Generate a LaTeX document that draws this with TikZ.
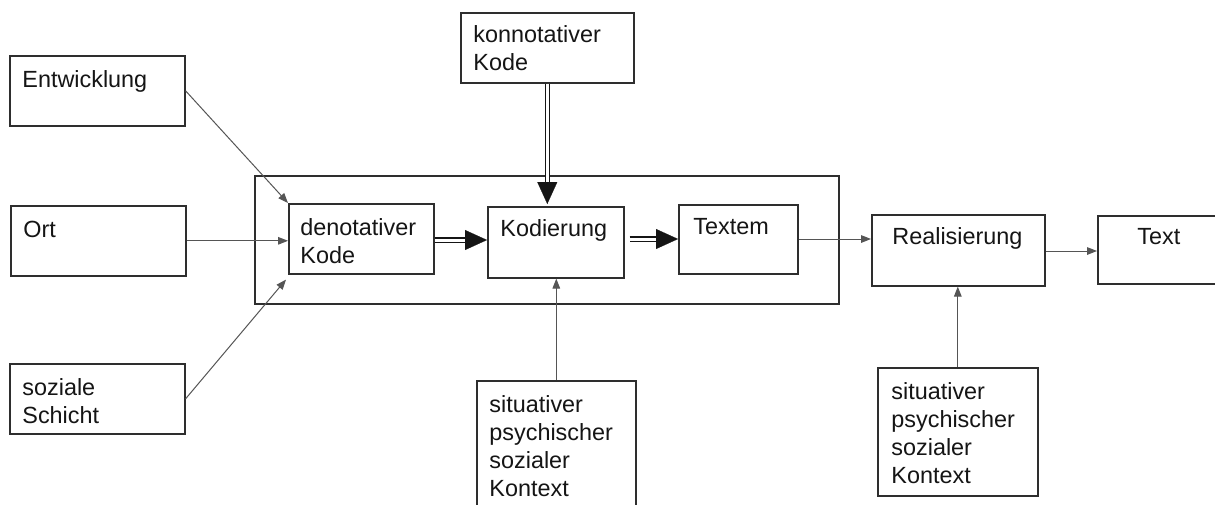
\documentclass[tikz,border=0pt]{standalone}
\usepackage{fontspec}
\setmainfont{Liberation Sans}
\usetikzlibrary{arrows.meta,calc}
\definecolor{boxc}{HTML}{2E2E2E}
\definecolor{linec}{HTML}{555555}
\definecolor{txtc}{HTML}{151515}
\begin{document}
\begin{tikzpicture}[x=0.5pt,y=-0.5pt,
  box/.style={draw=boxc, line width=0.8pt, rectangle, inner sep=0pt, anchor=north west},
  lbl/.style={inner sep=0pt, anchor=base west, text width=100pt, align=left, text=txtc,
    font=\fontsize{11.7}{14}\selectfont},
  thin/.style={draw=linec, line width=0.5pt, -{Triangle[length=5pt,width=3.8pt]}},
  dbl/.style={draw=txtc, line width=0.65pt, double=white, double distance=1.5pt, shorten >=9pt},
  bighead/.style={draw=white, line width=0.1pt, -{Triangle[length=11pt,width=10pt,color=txtc]}}]
\useasboundingbox[fill=white] (0,0) rectangle (1215,504);
% boxes
\node[box, minimum width=87.5pt, minimum height=35pt] (ent) at (9,55) {};
\node[box, minimum width=87.5pt, minimum height=35pt] (ort) at (10,205) {};
\node[box, minimum width=87.5pt, minimum height=35pt] (soz) at (9,363) {};
\node[box, minimum width=292pt, minimum height=64pt] (outer) at (254,175) {};
\node[box, minimum width=72.5pt, minimum height=35pt] (den) at (288,203) {};
\node[box, minimum width=68pt, minimum height=35.5pt] (kod) at (487,206) {};
\node[box, minimum width=59.5pt, minimum height=34.5pt] (tex) at (678,204) {};
\node[box, minimum width=86.5pt, minimum height=35pt] (kon) at (460,12) {};
\node[box, minimum width=79.5pt, minimum height=75pt] (ctxa) at (476,380) {};
\node[box, minimum width=86.5pt, minimum height=35.5pt] (rea) at (871,214) {};
\node[box, minimum width=70pt, minimum height=34pt] (txt) at (1097,215) {};
\node[box, minimum width=80pt, minimum height=64pt] (ctxb) at (877,367) {};
% labels
\node[lbl] (entL) at (22,87) {Entwicklung};
\node[lbl] (ortL) at (23,237) {Ort};
\node[lbl] (sozL) at (22,395) {soziale\\Schicht};
\node[lbl] (denL) at (300,235) {denotativer\\Kode};
\node[lbl] (kodL) at (500,236) {Kodierung};
\node[lbl] (texL) at (693,234) {Textem};
\node[lbl] (konL) at (473,42) {konnotativer\\Kode};
\node[lbl] (ctxaL) at (489,412) {situativer\\psychischer\\sozialer\\Kontext};
\node[lbl] (reaL) at (892,244) {Realisierung};
\node[lbl] (txtL) at (1137,244) {Text};
\node[lbl] (ctxbL) at (891,399) {situativer\\psychischer\\sozialer\\Kontext};
% connectors
\coordinate (sozT) at ($(den.south west)+(-2,5)$);
\draw[thin] (ent.east) -- (den.north west);
\draw[thin] (ort.east) -- (ort.east -| den.west);
\draw[thin] (soz.east) -- (sozT);
\coordinate (denE) at (den.east |- 0,240);
\coordinate (kodW) at (kod.west |- 0,240);
\coordinate (kodE) at ($(kod.east |- 0,239)+(5,0)$);
\coordinate (texW) at (tex.west |- 0,239);
\coordinate (konS) at (kon.south);
\coordinate (kodN) at ($(kon.south |- kod.north)+(0,-2)$);
\draw[dbl] (denE) -- (kodW);
\draw[bighead] (denE) -- (kodW);
\draw[dbl] (kodE) -- (texW);
\draw[bighead] (kodE) -- (texW);
\draw[dbl] (konS) -- (kodN);
\draw[bighead] (konS) -- (kodN);
\draw[thin] (ctxa.north) -- (ctxa.north |- kod.south);
\draw[thin] (tex.east |- 0,239) -- (rea.west |- 0,239);
\draw[thin] (rea.east |- 0,251) -- (txt.west |- 0,251);
\draw[thin] (ctxb.north) -- (ctxb.north |- rea.south);
\end{tikzpicture}
\end{document}
